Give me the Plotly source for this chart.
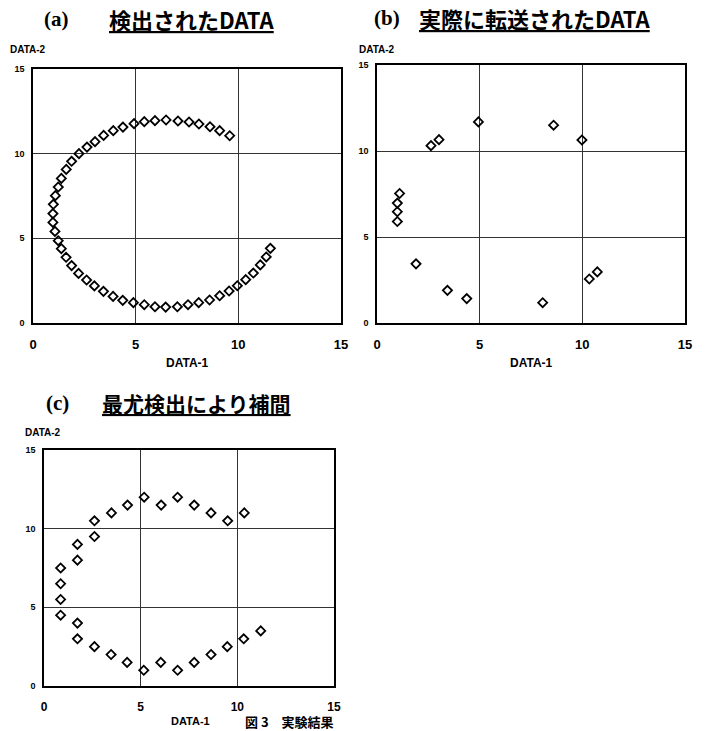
import plotly.graph_objects as go

W, H = 708, 731

# ---- data: (a) detected data
a_x = [2.24, 2.63, 3.02, 3.44, 3.91, 4.38, 4.92, 5.42, 5.94, 6.48, 7.06, 7.60, 8.08, 8.62, 9.09, 9.58,
       1.88, 1.62, 1.38, 1.23, 1.09, 0.99, 0.97, 0.97, 1.07, 1.23, 1.38, 1.61, 1.88, 2.22, 2.61, 2.99,
       3.43, 3.90, 4.37, 4.89, 5.42, 5.94, 6.46, 7.03, 7.55, 8.07, 8.60, 9.09, 9.55, 9.95, 10.36,
       10.73, 11.07, 11.36, 11.56]
a_y = [10.00, 10.39, 10.71, 11.08, 11.36, 11.57, 11.77, 11.89, 11.95, 11.99, 11.93, 11.87, 11.75, 11.59, 11.36, 11.06,
       9.55, 9.07, 8.54, 8.03, 7.52, 7.01, 6.46, 5.94, 5.41, 4.86, 4.39, 3.88, 3.39, 2.93, 2.54, 2.19,
       1.87, 1.57, 1.34, 1.20, 1.08, 0.96, 0.94, 0.96, 1.08, 1.20, 1.36, 1.61, 1.89, 2.20, 2.56,
       2.95, 3.43, 3.90, 4.41]

# ---- data: (b) actually transferred data
b_x = [2.63, 3.02, 4.94, 8.60, 9.98, 1.10, 0.99, 0.99, 0.99, 1.90, 3.43, 4.37, 8.07, 10.34, 10.73]
b_y = [10.31, 10.66, 11.69, 11.50, 10.64, 7.53, 6.97, 6.47, 5.90, 3.44, 1.90, 1.42, 1.18, 2.56, 2.97]

# ---- data: (c) interpolated by maximum-likelihood detection
c_x = [0.86, 0.86, 0.86, 0.86, 1.73, 1.73, 2.61, 2.61, 3.49, 4.32, 5.18, 6.06, 6.91, 7.77, 8.64, 9.50, 10.36,
       1.73, 1.73, 2.61, 3.47, 4.30, 5.16, 6.04, 6.91, 7.77, 8.64, 9.48, 10.33, 11.21]
c_y = [7.5, 6.5, 5.5, 4.5, 9.0, 8.0, 10.5, 9.5, 11.0, 11.5, 12.0, 11.5, 12.0, 11.5, 11.0, 10.5, 11.0,
       4.0, 3.0, 2.5, 2.0, 1.5, 1.0, 1.5, 1.0, 1.5, 2.0, 2.5, 3.0, 3.5]

ticks = [0, 5, 10, 15]
tick_text = ["0", "5", "10", "15"]
titles = ["検出されたDATA", "実際に転送されたDATA", "最尤検出により補間"]
labels = ["(a)", "(b)", "(c)"]
x_title = "DATA-1"
y_title = "DATA-2"
caption = "図 3　実験結果"

# panel boxes in pixels: left, right, top, bottom
boxes = [(33, 341, 69, 323), (377, 685, 65, 323), (44, 334, 450, 686)]


def px(x):
    return x / W


def py(y):
    return 1 - y / H


fig = go.Figure()
series = [(a_x, a_y), (b_x, b_y), (c_x, c_y)]
for i, (xs, ys) in enumerate(series):
    sfx = "" if i == 0 else str(i + 1)
    fig.add_trace(go.Scatter(
        x=xs, y=ys, mode="markers", xaxis="x" + sfx, yaxis="y" + sfx,
        marker=dict(symbol="diamond-open", size=7, color="black", line=dict(width=1.8, color="black")),
        showlegend=False, hoverinfo="skip"))

font_ticks = "Liberation Sans"
for i, (l, r, t, b) in enumerate(boxes):
    sfx = "" if i == 0 else str(i + 1)
    xsize = 13 if i < 2 else 12
    common = dict(range=[0, 15], tickvals=ticks, ticktext=tick_text, showgrid=True,
                  gridcolor="#333", gridwidth=1, showline=True, linecolor="black", linewidth=1.5,
                  mirror=True, ticks="", zeroline=False, fixedrange=True, automargin=False)
    fig.update_layout(**{
        "xaxis" + sfx: dict(common, domain=[px(l), px(r)], anchor="y" + sfx,
                             tickfont=dict(family=font_ticks, size=xsize, color="black", weight="bold"),
                             ticklabelstandoff=9),
        "yaxis" + sfx: dict(common, domain=[py(b), py(t)], anchor="x" + sfx,
                             tickfont=dict(family=font_ticks, size=9, color="black", weight="bold"),
                             ticklabelstandoff=5),
    })

annotations = []
# panel titles
title_pos = [(57, 107, 19, 22), (387, 417, 18, 22), (58, 100, 403, 21)]
for i, (lx, tx, ty, fs) in enumerate(title_pos):
    annotations.append(dict(x=px(lx), y=py(ty), xref="paper", yref="paper", text="<b>" + labels[i] + "</b>",
                            showarrow=False, xanchor="center", yanchor="middle",
                            font=dict(family="Liberation Serif", size=21, color="black")))
    annotations.append(dict(x=px(tx), y=py(ty), xref="paper", yref="paper",
                            text="<b><u>" + titles[i] + "</u></b>",
                            showarrow=False, xanchor="left", yanchor="middle",
                            font=dict(family="Noto Sans CJK JP", size=fs, color="black")))
# y-axis titles
for (xx, yy) in [(28, 50), (377, 50), (43, 432)]:
    annotations.append(dict(x=px(xx), y=py(yy), xref="paper", yref="paper", text="<b>" + y_title + "</b>",
                            showarrow=False, xanchor="center", yanchor="middle",
                            font=dict(family=font_ticks, size=10, color="black")))
# x-axis titles
for (xx, yy, s) in [(187, 363, 12), (531, 363, 12), (190, 721, 11)]:
    annotations.append(dict(x=px(xx), y=py(yy), xref="paper", yref="paper", text="<b>" + x_title + "</b>",
                            showarrow=False, xanchor="center", yanchor="middle",
                            font=dict(family=font_ticks, size=s, color="black")))
# caption at the bottom edge
annotations.append(dict(x=px(243), y=py(721), xref="paper", yref="paper", text="<b>" + caption + "</b>",
                        showarrow=False, xanchor="left", yanchor="middle",
                        font=dict(family="Noto Sans CJK JP", size=13, color="black")))

fig.update_layout(width=W, height=H, margin=dict(l=0, r=0, t=0, b=0),
                  paper_bgcolor="white", plot_bgcolor="white", annotations=annotations)

fig.write_html("out.html", config={"displayModeBar": False},
               post_script="document.body.style.margin='0';document.body.style.overflow='hidden';")
